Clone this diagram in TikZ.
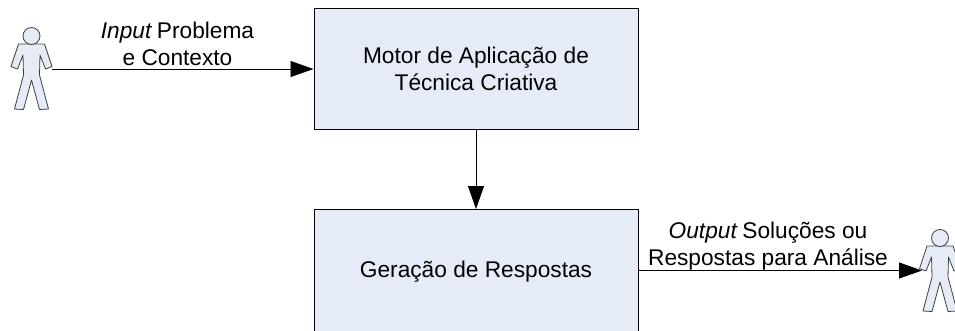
\documentclass[tikz,border=0pt]{standalone}
\usepackage{xcolor}
\usepackage{fontspec}
\setmainfont{Liberation Sans}
\usepackage{tikz}
\usetikzlibrary{arrows.meta,positioning,calc}

\definecolor{boxblue}{HTML}{E6ECF7}
\definecolor{personline}{HTML}{404040}

\tikzset{
    blockbox/.style={draw=black, line width=1pt, fill=boxblue, font=\fontsize{22.7}{27}\selectfont, minimum width=324pt, minimum height=121pt, inner sep=0pt, align=center},
    flowlabel/.style={font=\fontsize{22.7}{27}\selectfont, align=center, inner sep=0pt},
    flowarrow/.style={draw=black, line width=0.9pt, -{Triangle[length=23pt,width=16pt]}, shorten >=0pt},
    pics/person/.style={code={
        \draw[draw=personline, line width=0.8pt, fill=boxblue, line join=round]
            (-13,8) -- (13,8) -- (20.5,30.5) -- (14,33) -- (8.5,19) -- (8,39) -- (17,73) -- (8,73.5)
            -- (0,44) -- (-8,73.5) -- (-17,73) -- (-8,39) -- (-8.5,19) -- (-14,33) -- (-20.5,30.5) -- cycle;
        \draw[draw=personline, line width=0.8pt, fill=boxblue] (0,0) circle (8.5);
    }}
}

\begin{document}
\begin{tikzpicture}[x=1pt, y=-1pt]
    \useasboundingbox (0,0) rectangle (955,330);
    \node[blockbox] (motor) at (476,68.5) {Motor de Aplicação de\\Técnica Criativa};
    \node[blockbox, minimum height=125pt] (geracao) at (476,272) {Geração de Respostas};
    \pic at (31.5,36) {person};
    \pic at (940,238) {person};
    \coordinate (userin) at (52,69);
    \coordinate (userout) at (922,270.5);
    \node[flowlabel] (inputlabel) at (177.5,44) {\textit{Input}\kern-1.5pt{} Problema\\e Contexto};
    \node[flowlabel] (outputlabel) at (768,246) {\textit{Output}\kern-1.5pt{} Soluções ou\\Respostas para Análise};
    \draw[flowarrow] (userin) -- (motor.west |- userin);
    \draw[flowarrow] (motor) -- (geracao);
    \draw[flowarrow] (geracao.east |- userout) -- (userout);
\end{tikzpicture}
\end{document}
